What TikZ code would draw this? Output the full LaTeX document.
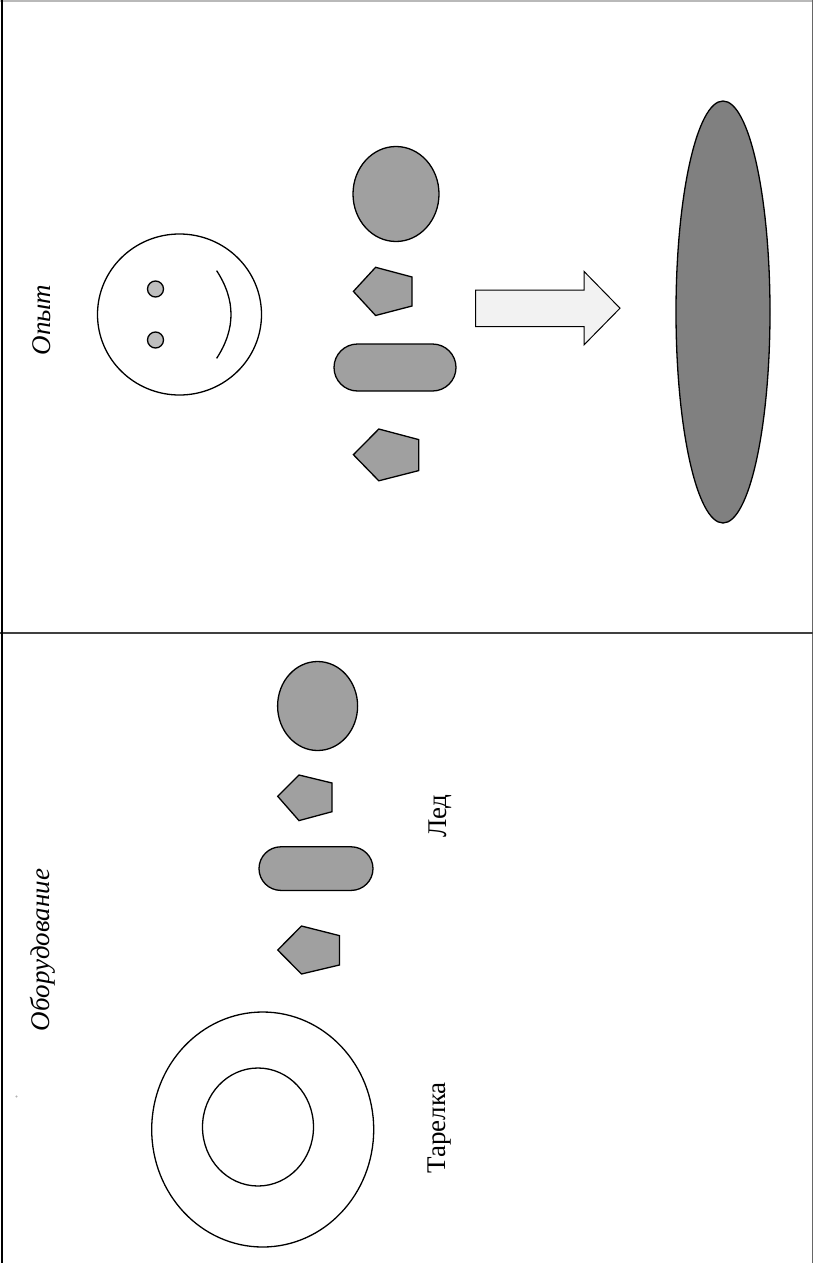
\documentclass[tikz,border=0pt]{standalone}
\usepackage{fontspec}
\setmainfont{Liberation Serif}
\usetikzlibrary{shapes.geometric,shapes.misc}
\definecolor{icegray}{HTML}{A0A0A0}
\definecolor{eyegray}{HTML}{BFBFBF}
\definecolor{puddle}{HTML}{808080}
\definecolor{arrowfill}{HTML}{F2F2F2}
\tikzset{
  outline/.style={draw=black, line width=1.3pt},
  ice/.style={outline, fill=icegray},
  blob/.style={ice, ellipse, inner sep=0pt},
  capsule/.style={ice, rounded rectangle, inner sep=0pt},
  label/.style={rotate=90, inner sep=0pt, font=\fontsize{27}{31}\selectfont},
}
\begin{document}
\begin{tikzpicture}[x=1pt, y=-1pt]
\useasboundingbox (0,0) rectangle (813,1263);
\fill[white] (0,0) rectangle (813,1263);

% frame and panel divider
\draw[gray!55, line width=2pt] (0,1.5) -- (813,1.5);
\draw[black!60, line width=0.6pt] (812.3,0) -- (812.3,1263);
\draw[black!75, line width=2pt] (0,633) -- (813,633);
\draw[black, line width=2.2pt] (2,0) -- (2,1263);

% ---- upper panel: experiment ----
\node[label, font=\fontsize{27}{31}\selectfont\itshape] (opyt) at (42,320) {Опыт};

% smiling face
\node[outline, ellipse, minimum width=164pt, minimum height=161pt, inner sep=0pt] (face) at (179.5,314.5) {};
\node[outline, fill=eyegray, circle, minimum size=16pt, inner sep=0pt] (eyeA) at (155.5,289) {};
\node[outline, fill=eyegray, circle, minimum size=16pt, inner sep=0pt] (eyeB) at (155.5,340) {};
\coordinate (mouthA) at (216.6,270.6);
\coordinate (mouthB) at (216.6,358.4);
\draw[outline] (mouthA) .. controls (235.8,299.9) and (235.8,329.1) .. (mouthB);

% ice pieces
\node[blob, minimum width=86pt, minimum height=95pt] (iceA) at (396,194) {};
\draw[ice] (375.6,267.3) -- (412,277) -- (412,306) -- (375.6,315.5) -- (353.4,291.4) -- cycle;
\node[capsule, minimum width=122pt, minimum height=47pt] (barA) at (395,367.5) {};
\draw[ice] (378.8,429) -- (418.7,439.6) -- (418.7,470.6) -- (378.8,480.8) -- (353.4,454.7) -- cycle;

% melting arrow
\draw[outline, fill=arrowfill, line width=1pt]
  (475.6,290) -- (584,290) -- (584,271.4) -- (620,308.2) -- (584,344.9)
  -- (584,326.5) -- (475.6,326.5) -- cycle;

% puddle of water
\node[outline, fill=puddle, ellipse, minimum width=94pt, minimum height=422pt, inner sep=0pt] (water) at (723,312) {};

% ---- lower panel: equipment ----
\node[label, font=\fontsize{27}{31}\selectfont\itshape] (equip) at (43,950) {Оборудование};
\fill[gray!60] (16.5,1096.5) circle (1.2pt);

\node[blob, minimum width=80pt, minimum height=89pt] (iceB) at (317.6,706) {};
\draw[ice] (299,775) -- (332,783) -- (332,811.7) -- (299,820.6) -- (277.7,796.3) -- cycle;
\node[capsule, minimum width=114pt, minimum height=43.6pt] (barB) at (316,868.6) {};
\draw[ice] (301.5,926) -- (339.4,935.6) -- (339.4,965) -- (301.5,974) -- (277.7,950) -- cycle;

% plate
\node[outline, ellipse, minimum width=222pt, minimum height=235pt, inner sep=0pt] (plate) at (262.7,1129.5) {};
\node[outline, ellipse, minimum width=111pt, minimum height=118pt, inner sep=0pt] (plateIn) at (258,1127) {};

\node[label] (ice) at (440,816) {Лед};
\node[label] (plateLbl) at (440,1128) {Тарелка};
\end{tikzpicture}
\end{document}
